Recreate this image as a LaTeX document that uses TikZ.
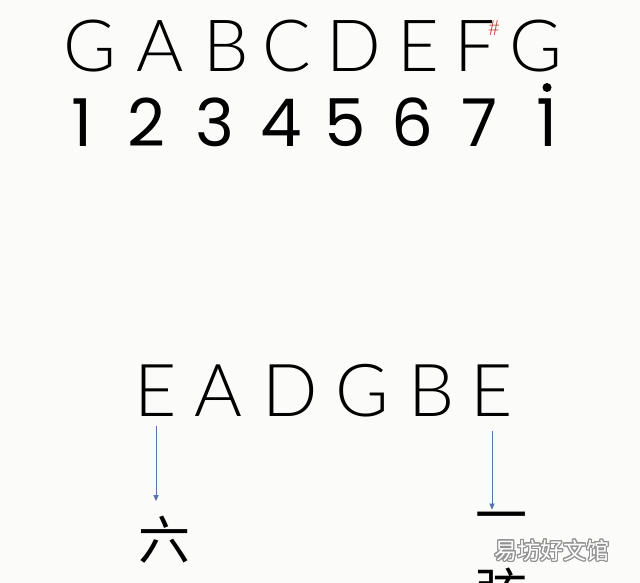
\documentclass[tikz,border=0pt]{standalone}
\usepackage{fontspec}
\setmainfont{Poppins}
\newfontfamily\lightfont{Lato}[UprightFont=* Light]
\newfontfamily\cjk{Noto Sans CJK SC}
\usepackage{contour}
\usetikzlibrary{arrows.meta}
\definecolor{paper}{HTML}{FBFBF9}
\definecolor{arrowblue}{HTML}{5575A8}
\definecolor{sharpred}{HTML}{B83A2E}
\contourlength{1.1pt}
\contournumber{24}

\tikzset{
  note/.style={inner sep=0pt, anchor=base, font=\lightfont\fontsize{72}{72}\selectfont},
  digit/.style={inner sep=0pt, anchor=base, font=\fontsize{66}{66}\selectfont},
  string/.style={inner sep=0pt, anchor=base, font=\lightfont\fontsize{73}{73}\selectfont},
  hanzi/.style={inner sep=0pt, font=\cjk\fontsize{52}{52}\selectfont},
  arr/.style={arrowblue, line width=0.8pt, -{Triangle[width=5pt,length=6pt]}}
}

\begin{document}
\begin{tikzpicture}[x=1pt, y=-1pt]
        \fill[paper] (0,0) rectangle (640,583);
        \useasboundingbox (0,0) rectangle (640,583);
        \clip (0,0) rectangle (640,583);

        % scale names
        \node[note] (nG) at (90, 72) {G};
        \node[note] (nA) at (160, 72) {A};
        \node[note] (nB) at (226, 72) {B};
        \node[note] (nC) at (287, 72) {C};
        \node[note] (nD) at (354, 72) {D};
        \node[note] (nE) at (418, 72) {E};
        \node[note] (nF) at (475, 72) {F};
        \node[note] (nGG) at (536, 72) {G};
        \node[sharpred, inner sep=0pt, font=\lightfont\fontsize{21}{21}\selectfont] (sharp) at (494, 28) {\#};

        % numbered notation
        \node[digit] (d1) at (82, 147) {1};
        \node[digit] (d2) at (146, 147) {2};
        \node[digit] (d3) at (215, 147) {3};
        \node[digit] (d4) at (281, 147) {4};
        \node[digit] (d5) at (345, 147) {5};
        \node[digit] (d6) at (412, 147) {6};
        \node[digit] (d7) at (480, 147) {7};
        \node[digit] (d8) at (547, 147) {1};
        \fill (547, 87.5) circle (4.5);

        % open strings
        \node[string] (s6) at (156, 416) {E};
        \node[string] (s5) at (218, 416) {A};
        \node[string] (s4) at (290, 416) {D};
        \node[string] (s3) at (362, 416) {G};
        \node[string] (s2) at (432, 416) {B};
        \node[string] (s1) at (492, 416) {E};

        \node[hanzi] (six) at (164, 540) {六};
        \node[hanzi] (one) at (501, 523) {一};
        \node[hanzi] (xian) at (501, 592) {弦};

        \draw[arr, shorten <=10pt, shorten >=15pt] (s6.south) -- (six.north -| s6.south);
        \draw[arr, shorten <=15pt, shorten >=2pt] (s1.south) -- (one.north -| s1.south);

        \node[text=white, inner sep=0pt, font=\cjk\fontsize{23}{23}\selectfont] (mark) at (552, 551) {\contour{gray!85}{易坊好文馆}};
\end{tikzpicture}
\end{document}
